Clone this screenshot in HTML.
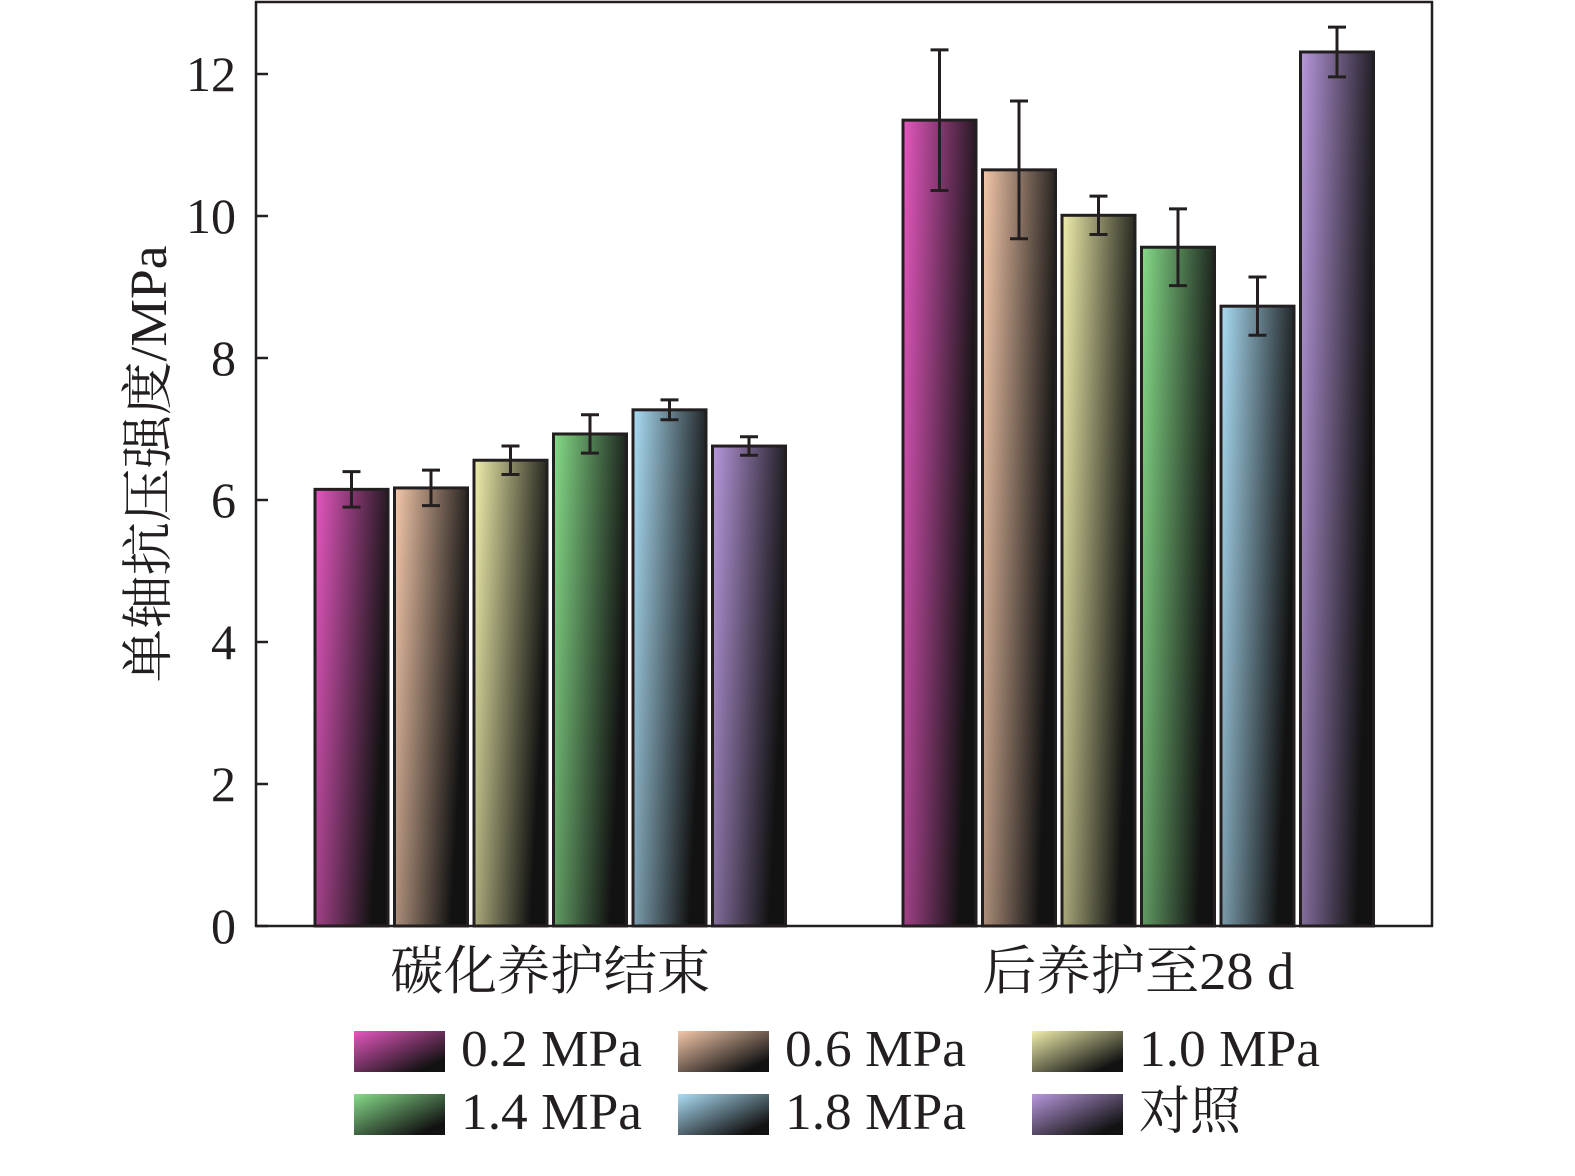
<!DOCTYPE html>
<html><head><meta charset="utf-8"><style>
html,body{margin:0;padding:0;background:#fff;}
svg{display:block;}
text{font-family:"Liberation Serif","Noto Serif CJK SC",serif;fill:#231f20;}
</style></head><body>
<svg id="chart" width="1575" height="1176" viewBox="0 0 1575 1176" xmlns="http://www.w3.org/2000/svg">
<defs id="defs"></defs>
<g id="plot"></g>
</svg>
<script>
const groups = ["碳化养护结束", "后养护至28 d"];
const seriesNames = ["0.2 MPa", "0.6 MPa", "1.0 MPa", "1.4 MPa", "1.8 MPa", "对照"];
const valuesEnd = [6.15, 6.17, 6.56, 6.93, 7.27, 6.76];
const values28d = [11.35, 10.65, 10.01, 9.56, 8.73, 12.31];
const errEnd = [0.25, 0.25, 0.2, 0.27, 0.14, 0.13];
const err28d = [0.99, 0.97, 0.27, 0.54, 0.41, 0.35];
const yTicks = [0, 2, 4, 6, 8, 10, 12];
const colors = ["#e657c0", "#f4c8aa", "#f0efac", "#86dc89", "#abddf5", "#b898dd"];

const NS = "http://www.w3.org/2000/svg";
const X0 = 256, X1 = 1432, Y0 = 926, YT = 2;
const yScale = v => Y0 - v * 71;
const groupStart = [315, 903];
const pitch = 79.5, barW = 73;
const xBar = (g, i) => groupStart[g] + i * pitch;
const plot = document.getElementById("plot");
const defs = document.getElementById("defs");
function mk(tag, attrs, parent) {
  const e = document.createElementNS(NS, tag);
  for (const k in attrs) e.setAttribute(k, attrs[k]);
  (parent || plot).appendChild(e);
  return e;
}
colors.forEach((c, i) => {
  const lg = mk("linearGradient", {id: "g" + i, x1: 0, y1: 0, x2: 1, y2: 0.35}, defs);
  mk("stop", {offset: "0", "stop-color": c}, lg);
  mk("stop", {offset: "1", "stop-color": "#121212"}, lg);
  const lg2 = mk("linearGradient", {id: "l" + i, x1: 0, y1: 0, x2: 1, y2: 1}, defs);
  mk("stop", {offset: "0", "stop-color": c}, lg2);
  mk("stop", {offset: "0.85", "stop-color": "#121212"}, lg2);
});
const frame = mk("rect", {x: X0, y: YT, width: X1 - X0, height: Y0 - YT, fill: "none", stroke: "#231f20", "stroke-width": 2.5});


yTicks.forEach(t => {
  const y = yScale(t);
  const tk = mk("line", {x1: X0, x2: X0 + 12, y1: y, y2: y, stroke: "#231f20", "stroke-width": 2.5});
  
  
  const tl = mk("text", {x: 236, y: y + 17, "text-anchor": "end", "font-size": 50});
  tl.textContent = t;
  
  
});
const yt = mk("text", {x: 0, y: 0, "text-anchor": "middle", "font-size": 52, textLength: 437, lengthAdjust: "spacingAndGlyphs", transform: "translate(166,464) rotate(-90)"});
yt.textContent = "单轴抗压强度/MPa";


const allVals = [valuesEnd, values28d], allErr = [errEnd, err28d];
const gLen = [320, 312];
groups.forEach((gname, g) => {
  allVals[g].forEach((v, i) => {
    const x = xBar(g, i), y = yScale(v);
    const b = mk("rect", {x: x, y: y, width: barW, height: Y0 - y, fill: "url(#g" + i + ")", stroke: "#231f20", "stroke-width": 3});
    
    
    const cx = x + barW / 2, e = allErr[g][i];
    const eg = mk("g", {stroke: "#231f20", "stroke-width": 3});
    
    
    mk("line", {x1: cx, x2: cx, y1: yScale(v + e), y2: yScale(v - e)}, eg);
    mk("line", {x1: cx - 9, x2: cx + 9, y1: yScale(v + e), y2: yScale(v + e)}, eg);
    mk("line", {x1: cx - 9, x2: cx + 9, y1: yScale(v - e), y2: yScale(v - e)}, eg);
  });
  const gx = xBar(g, 0) + (5 * pitch + barW) / 2;
  const gl = mk("text", {x: gx, y: 989, "text-anchor": "middle", "font-size": 53, textLength: gLen[g], lengthAdjust: "spacingAndGlyphs"});
  gl.textContent = gname;
  
  
});
const legX = [354, 678, 1032], legY = [1031, 1094];
seriesNames.forEach((n, i) => {
  const col = i % 3, row = Math.floor(i / 3);
  const lg = mk("g", {});
  
  
  mk("rect", {x: legX[col], y: legY[row], width: 91, height: 41, fill: "url(#l" + i + ")"}, lg);
  const t = mk("text", {x: legX[col] + 107, y: legY[row] + 35, "font-size": 52, textLength: n.length === 2 ? 102 : 181, lengthAdjust: "spacingAndGlyphs"}, lg);
  t.textContent = n;
});
</script>
</body></html>
